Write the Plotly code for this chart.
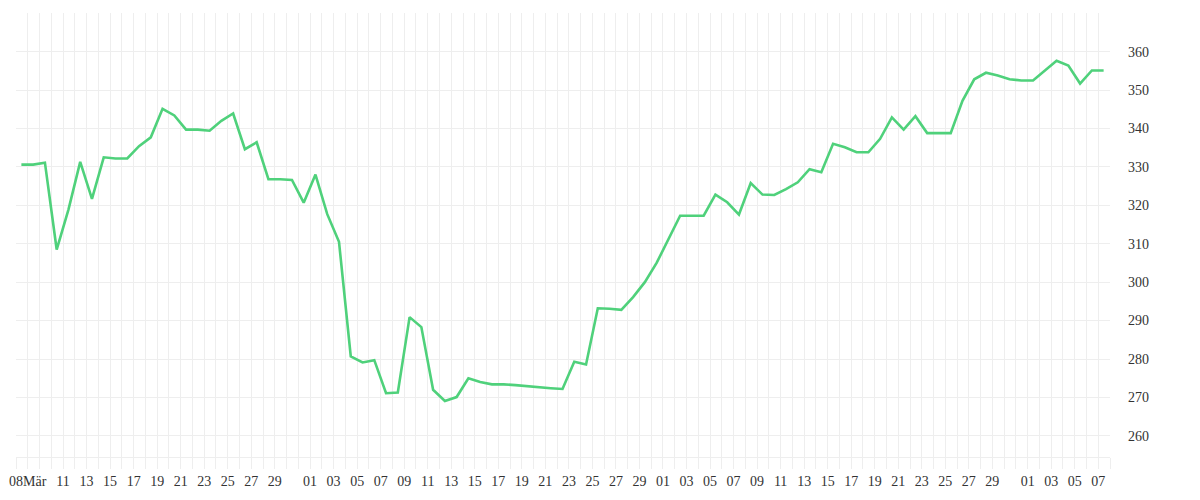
import pandas as pd
import plotly.graph_objects as go

# ---- data ----
start_date = "2024-03-07 11:00"
values = [
    330.6, 330.6, 331.1, 308.5, 318.9, 331.3, 321.7, 332.5, 332.2, 332.2,
    335.4, 337.7, 345.1, 343.4, 339.7, 339.7, 339.4, 342.0, 343.9, 334.6,
    336.4, 326.8, 326.8, 326.6, 320.7, 328.0, 317.7, 310.5, 280.7, 279.1,
    279.7, 271.1, 271.3, 290.9, 288.3, 272.0, 269.1, 270.1, 275.0, 274.0,
    273.4, 273.4, 273.2, 272.9, 272.7, 272.4, 272.2, 279.3, 278.6, 293.2,
    293.1, 292.8, 296.1, 300.0, 305.0, 311.1, 317.3, 317.3, 317.3, 322.8,
    320.8, 317.6, 325.8, 322.8, 322.7, 324.2, 326.0, 329.4, 328.6, 336.0,
    335.1, 333.8, 333.8, 337.3, 342.9, 339.7, 343.2, 338.8, 338.8, 338.8,
    347.2, 352.8, 354.5, 353.8, 352.8, 352.5, 352.5, 355.1, 357.6, 356.4,
    351.7, 355.1, 355.1,
]

tick_days = {
    "2024-03": [8, 11, 13, 15, 17, 19, 21, 23, 25, 27, 29],
    "2024-04": [1, 3, 5, 7, 9, 11, 13, 15, 17, 19, 21, 23, 25, 27, 29],
    "2024-05": [1, 3, 5, 7, 9, 11, 13, 15, 17, 19, 21, 23, 25, 27, 29],
    "2024-06": [1, 3, 5, 7],
}
first_tick_label = "08Mär"

y_tickvals = [260, 270, 280, 290, 300, 310, 320, 330, 340, 350, 360, 370]
y_ticktext = ["260", "270", "280", "290", "300", "310", "320", "330", "340", "350", "360", ""]

x_range = ["2024-03-07", "2024-06-08"]
y_range = [254.5, 370.05]

# ---- build ----
dates = pd.date_range(start=start_date, periods=len(values), freq="D")

tick_vals, tick_text = [], []
for month, days in tick_days.items():
    for d in days:
        tick_vals.append(f"{month}-{d:02d}")
        tick_text.append(f"{d:02d}")
tick_text[0] = first_tick_label

grid_color = "#eeeeee"
font_color = "#333333"

fig = go.Figure(
    go.Scatter(
        x=dates,
        y=values,
        mode="lines",
        line=dict(color="#4fd17b", width=2.6),
        hoverinfo="skip",
    )
)

fig.update_layout(
    width=1200,
    height=500,
    margin=dict(l=8, r=98, t=5, b=51, autoexpand=False),
    plot_bgcolor="white",
    paper_bgcolor="white",
    showlegend=False,
    font=dict(family="Liberation Serif", size=14, color=font_color),
)

fig.update_xaxes(
    type="date",
    automargin=False,
    range=x_range,
    tickvals=tick_vals,
    ticktext=tick_text,
    showgrid=True,
    gridcolor=grid_color,
    gridwidth=1,
    ticks="outside",
    ticklen=11,
    tickcolor=grid_color,
    tickwidth=1,
    showline=True,
    linecolor=grid_color,
    linewidth=1,
    zeroline=False,
    minor=dict(
        dtick=86400000,
        tick0="2024-03-07",
        showgrid=True,
        gridcolor=grid_color,
        gridwidth=1,
        ticks="outside",
        ticklen=11,
        tickcolor=grid_color,
    ),
    tickfont=dict(family="Liberation Serif", size=14, color=font_color),
)

fig.update_yaxes(
    side="right",
    automargin=False,
    range=y_range,
    tickvals=y_tickvals,
    ticktext=y_ticktext,
    showgrid=True,
    gridcolor=grid_color,
    gridwidth=1,
    zeroline=False,
    ticks="",
    ticklabelstandoff=17,
    tickfont=dict(family="Liberation Serif", size=14, color=font_color),
)

fig.write_html("out.html")
